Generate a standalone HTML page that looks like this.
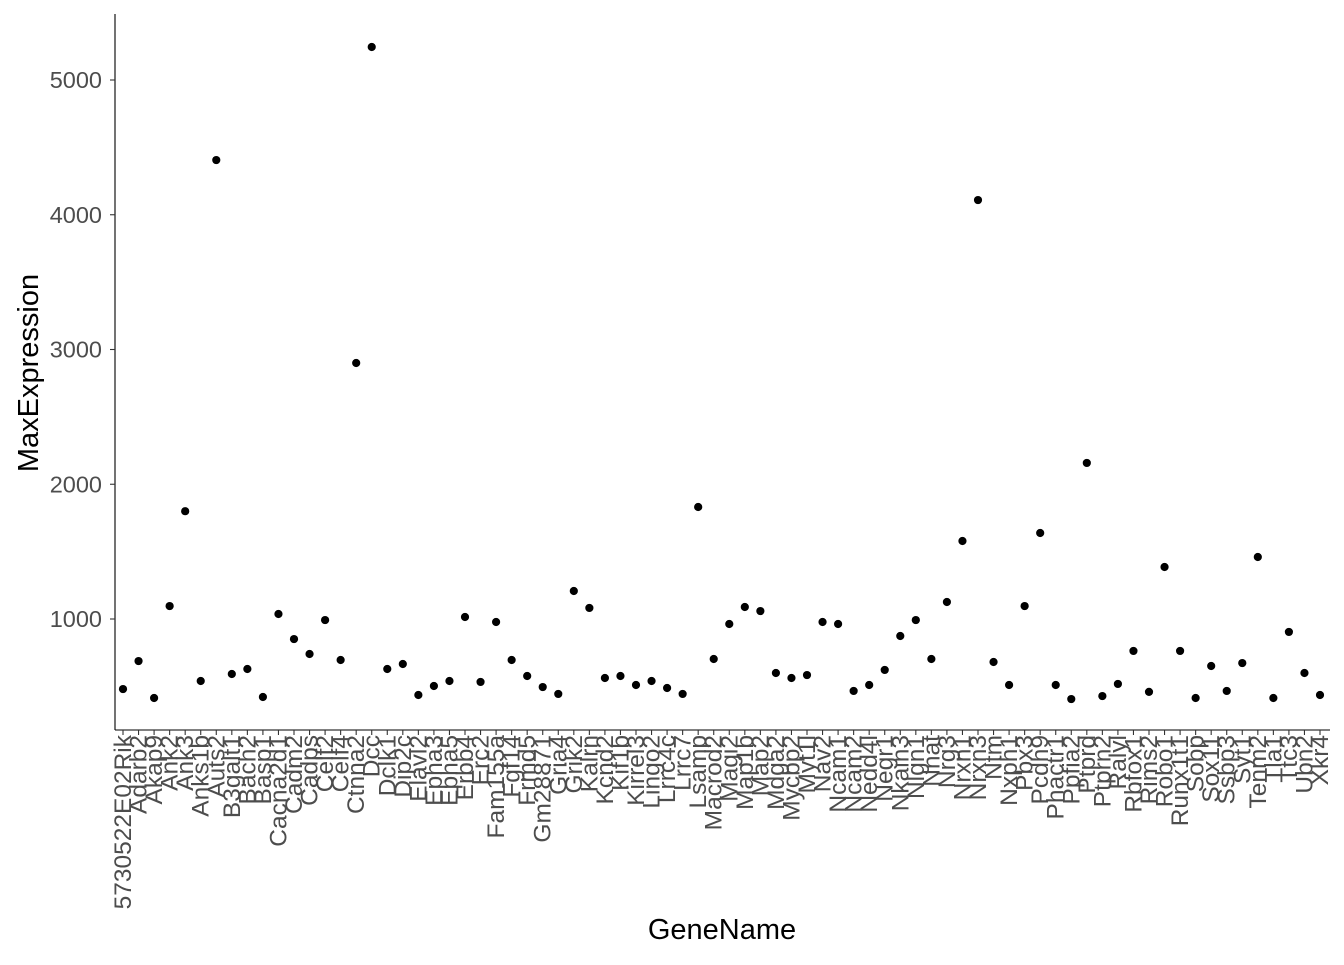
<!DOCTYPE html>
<html><head><meta charset="utf-8"><style>
html,body{margin:0;padding:0;background:#fff;}
svg text{font-family:"Liberation Sans",Arial,sans-serif;}
</style></head><body>
<svg id="chart" width="1344" height="960" xmlns="http://www.w3.org/2000/svg">
<g id="plot"></g>
</svg>
<script>
const genes=["5730522E02Rik","Adarb2","Akap9","Ank2","Ank3","Anks1b","Auts2","B3galt1","Bach2","Basp1","Cacna2d1","Cadm2","Cadps","Celf2","Celf4","Ctnna2","Dcc","Dclk1","Dip2c","Elavl2","Epha3","Epha5","Erbb4","Erc2","Fam155a","Fgf14","Frmd5","Gm28871","Gria4","Grik2","Kalrn","Kcnd2","Kif1b","Kirrel3","Lingo2","Lrrc4c","Lrrc7","Lsamp","Macrod2","Magi2","Map1b","Map2","Mdga2","Mycbp2","Myt1l","Nav2","Ncam1","Ncam2","Nedd4l","Negr1","Nkain3","Nlgn1","Nnat","Nrg3","Nrxn1","Nrxn3","Ntm","Nxph1","Pbx3","Pcdh9","Phactr1","Ppfia2","Ptprd","Ptprn2","Ralyl","Rbfox1","Rims2","Robo1","Runx1t1","Sobp","Sox11","Ssbp3","Syt1","Tenm2","Tla1","Ttc3","Ubn2","Xkr4"];
const maxExpr=[480,688,414,1096,1800,540,4406,592,629,421,1037,851,740,992,696,2900,5245,629,666,436,503,540,1015,533,978,696,577,495,444,1208,1082,562,577,510,540,488,444,1831,703,963,1089,1059,599,562,584,978,963,466,510,622,874,992,703,1126,1579,4109,681,510,1096,1638,510,406,2158,428,518,763,459,1386,763,414,651,466,673,1460,414,904,599,436];
const yTicks=[1000,2000,3000,4000,5000];
const NS="http://www.w3.org/2000/svg";
const L=115,R=1330,T=14,B=730;
const x0=123,x1=1320;
function xs(i){return x0+(x1-x0)*i/(genes.length-1);}
function ys(v){return 753.75-v*0.13475;}
const g=document.getElementById('plot');
function mk(t,a,txt){const e=document.createElementNS(NS,t);for(const k in a)e.setAttribute(k,a[k]);if(txt!==undefined)e.textContent=txt;g.appendChild(e);return e;}
let e;
e=mk('line',{x1:L,y1:T,x2:L,y2:B,stroke:'#000','stroke-width':1.1});


e=mk('line',{x1:L,y1:B,x2:R,y2:B,stroke:'#000','stroke-width':1.1});


yTicks.forEach(v=>{
  const y=ys(v);
  e=mk('line',{x1:L-5,y1:y,x2:L,y2:y,stroke:'#333','stroke-width':1.1});
  
  
  e=mk('text',{x:L-13,y:y+8,'text-anchor':'end','font-size':23.5,fill:'#4d4d4d'},String(v));
  
  
});
genes.forEach((n,i)=>{
  const x=xs(i);
  e=mk('line',{x1:x,y1:B,x2:x,y2:B+5,stroke:'#333','stroke-width':1.1});
  
  
  e=mk('text',{x:0,y:0,'text-anchor':'end','font-size':24.5,fill:'#4d4d4d',transform:`translate(${x+8},${B+5}) rotate(-90)`},n);
  
  
  e=mk('circle',{cx:x,cy:ys(maxExpr[i]),r:4.1,fill:'#000'});
  
  
});
e=mk('text',{x:722,y:939,'text-anchor':'middle','font-size':29,fill:'#000'},'GeneName');


e=mk('text',{x:0,y:0,'text-anchor':'middle','font-size':29,fill:'#000',transform:`translate(38,373) rotate(-90)`},'MaxExpression');


</script>
</body></html>
